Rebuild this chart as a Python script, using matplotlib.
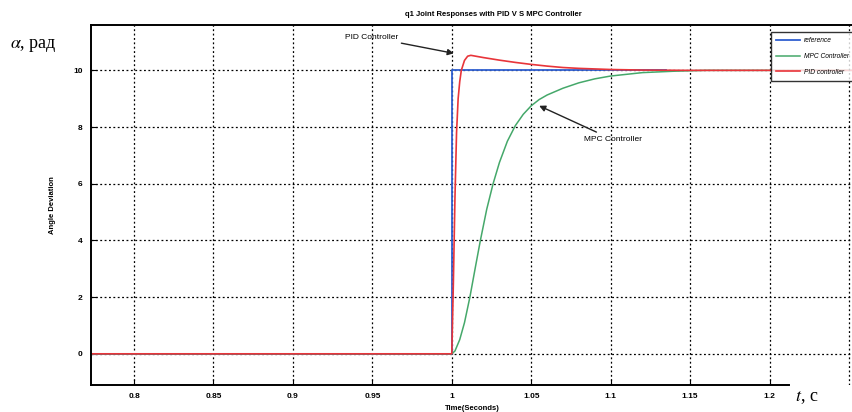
import matplotlib
matplotlib.use("Agg")
import matplotlib.pyplot as plt
import numpy as np

plt.rcParams['font.family'] = ['Liberation Sans', 'DejaVu Sans']
plt.rcParams['mathtext.fontset'] = 'stix'

# ---- data ----
ref_t = [0.7729, 1.0, 1.0, 1.135]
ref_y = [0.0, 0.0, 10.0, 10.0]

pid_t = [0.7729, 1.0, 1.001, 1.002, 1.003, 1.004, 1.005, 1.006, 1.008, 1.010,
         1.012, 1.015, 1.02, 1.03, 1.04, 1.05, 1.06, 1.07, 1.08, 1.09, 1.10,
         1.12, 1.15, 1.20, 1.26]
pid_y = [0.0, 0.0, 2.5, 5.5, 7.8, 9.0, 9.6, 10.0, 10.35, 10.5,
         10.53, 10.5, 10.45, 10.36, 10.28, 10.21, 10.15, 10.1, 10.07, 10.05, 10.03,
         10.01, 10.0, 10.0, 10.0]

mpc_t = [0.7729, 1.0, 1.002, 1.005, 1.008, 1.0114, 1.015, 1.018, 1.022, 1.026,
         1.030, 1.035, 1.040, 1.045, 1.05, 1.055, 1.06, 1.07, 1.08, 1.09, 1.10,
         1.12, 1.14, 1.16, 1.26]
mpc_y = [0.0, 0.0, 0.1, 0.5, 1.1, 2.0, 3.1, 4.0, 5.1, 6.0,
         6.75, 7.5, 8.05, 8.45, 8.75, 8.97, 9.13, 9.37, 9.56, 9.7, 9.8,
         9.92, 9.97, 10.0, 10.0]

legend_labels = ['reference', 'MPC Controller', 'PID controller']
xticks = [0.8, 0.85, 0.9, 0.95, 1.0, 1.05, 1.1, 1.15, 1.2]
xtick_labels = ['0.8', '0.85', '0.9', '0.95', '1', '1.05', '1.1', '1.15', '1.2']
yticks = [0, 2, 4, 6, 8, 10]

W, H = 852, 412
fig = plt.figure(figsize=(W / 100, H / 100), dpi=100)
ax = fig.add_axes([91 / W, 1 - 385 / H, 1 - 91 / W + 0.002, (385 - 25) / H])

c_ref = '#2f5fd0'
c_mpc = '#45a86a'
c_pid = '#e8353a'

l1, = ax.plot(ref_t, ref_y, color=c_ref, lw=1.3, label=legend_labels[0])
l2, = ax.plot(mpc_t, mpc_y, color=c_mpc, lw=1.1, label=legend_labels[1])
l3, = ax.plot(pid_t, pid_y, color=c_pid, lw=1.2, label=legend_labels[2])

ax.set_xlim(0.7729, 1.253)
ax.set_ylim(-1.1, 11.6)
ax.set_xticks(xticks)
ax.set_xticklabels(xtick_labels)
ax.set_yticks(yticks)
ax.grid(True, color='black', linestyle=(0, (1.5, 2.0)), linewidth=0.9)
ax.axvline(1.25, color='black', linestyle=(0, (1.5, 2.0)), linewidth=0.9)
ax.tick_params(direction='in', length=4, width=0.8, labelsize=6, pad=6)
for lab in ax.get_xticklabels() + ax.get_yticklabels():
    lab.set_fontweight('bold')
for s in ['left', 'bottom', 'top']:
    ax.spines[s].set_linewidth(1.4)
ax.spines['right'].set_visible(False)
ax.spines['bottom'].set_bounds(0.7729, 1.212)

ax.set_xlabel('Time(Seconds)', fontsize=5.5, fontweight='bold', labelpad=3)
ax.set_ylabel('Angle Deviation', fontsize=5.5, fontweight='bold', labelpad=12)

fig.text(493 / W, 1 - 15 / H, 'q1 Joint Responses with PID V S MPC Controller',
         fontsize=5.5, fontweight='bold', ha='center', va='center')

ax.annotate('PID Controller', xy=(1.0013, 10.6), xytext=(0.933, 11.16),
            fontsize=6, va='center', ha='left',
            arrowprops=dict(arrowstyle='-|>', color='#222222', lw=1.0,
                            shrinkA=0, shrinkB=0, mutation_scale=9))
ax.annotate('MPC Controller', xy=(1.055, 8.75), xytext=(1.083, 7.56),
            fontsize=6, va='center', ha='left',
            arrowprops=dict(arrowstyle='-|>', color='#222222', lw=1.0,
                            shrinkA=2, shrinkB=0, mutation_scale=9))

leg = ax.legend(handles=[l1, l2, l3], loc='upper left',
                bbox_to_anchor=(771 / W, 1 - 32 / H), bbox_transform=fig.transFigure,
                fontsize=4.8, frameon=True, fancybox=False, edgecolor='black',
                handlelength=3.6, labelspacing=1.3, borderpad=0.8,
                handletextpad=0.5, borderaxespad=0)
leg.get_frame().set_linewidth(1.0)
for t in leg.get_texts():
    t.set_fontstyle('italic')

fig.text(10 / W, 1 - 45 / H, r'$\alpha$, рад', fontsize=13,
         family=['Liberation Serif', 'DejaVu Serif'], ha='left', va='center')
fig.text(795 / W, 1 - 398 / H, r'$t$, с', fontsize=13,
         family=['Liberation Serif', 'DejaVu Serif'], ha='left', va='center')

fig.savefig('out.png', dpi=100)
